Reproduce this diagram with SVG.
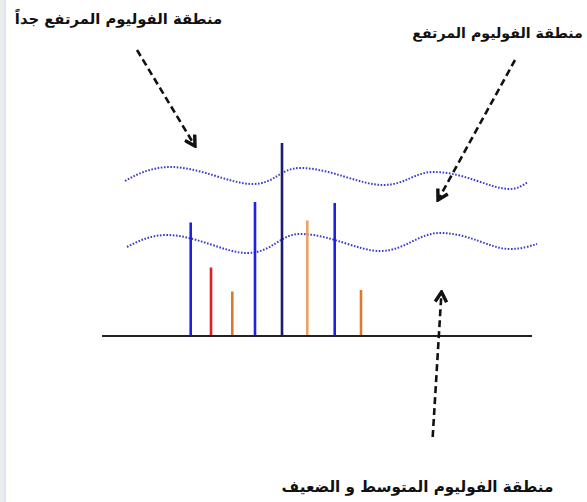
<svg xmlns="http://www.w3.org/2000/svg" width="587" height="502" viewBox="0 0 587 502">
<style>
.lbl{font-family:"DejaVu Sans","Noto Sans",sans-serif;font-weight:bold;font-size:15px;fill:#111;text-anchor:middle}
.wave{fill:none;stroke:#3b3bd0;stroke-width:2;stroke-dasharray:1.6 1.6}
.bar{stroke-width:2.6}
.arr{fill:none;stroke:#111;stroke-width:2.6;stroke-dasharray:7 4;marker-end:url(#ah)}
</style>
<defs>
<marker id="ah" viewBox="0 0 10 10" refX="8.5" refY="5" markerWidth="5.5" markerHeight="5.5" orient="auto" markerUnits="strokeWidth">
<path d="M1.5,1 L8.5,5 L1.5,9" fill="none" stroke="#111" stroke-width="2.4" stroke-dasharray="none"/>
</marker>
</defs>
<rect x="0" y="0" width="587" height="502" fill="#fff"/>
<rect x="0" y="0" width="4" height="502" fill="#ececec"/>
<line x1="5" y1="0" x2="5" y2="502" stroke="#c3d3ee" stroke-width="1.2"/>
<g id="waves">
<path class="wave" d="M125,181 C140,172 155,167 170,167 C200,167 230,184 253,184 C275,184 280,168 300,168 C330,168 360,185 383,185 C405,185 415,172 433,172 C465,172 490,189 510,189 C518,189 523,185 528,182"/>
<path class="wave" d="M127,247 C140,240 152,235 167,235 C195,235 225,253 247,253 C272,253 280,234 300,234 C330,234 358,251 380,251 C405,251 418,233 440,233 C470,233 490,249 510,249 C522,249 530,246 537,244"/>
</g>
<g id="bars">
<line class="bar" x1="190.7" y1="336" x2="190.7" y2="222.5" stroke="#1f1fe6"/>
<line class="bar" x1="211" y1="336" x2="211" y2="267.5" stroke="#e0201e"/>
<line class="bar" x1="232.3" y1="336" x2="232.3" y2="291.5" stroke="#e0782a"/>
<line class="bar" x1="255" y1="336" x2="255" y2="202" stroke="#1f1fe6"/>
<line class="bar" x1="282" y1="336" x2="282" y2="143" stroke="#1b1b72"/>
<line class="bar" x1="307.3" y1="336" x2="307.3" y2="220.5" stroke="#f0a060"/>
<line class="bar" x1="334.7" y1="336" x2="334.7" y2="203" stroke="#1f1fe6"/>
<line class="bar" x1="361" y1="336" x2="361" y2="290" stroke="#e0782a"/>
</g>
<g id="axis">
<line x1="102" y1="336" x2="532" y2="336" stroke="#222" stroke-width="2.2"/>
</g>
<g id="connectors">
<line class="arr" x1="137" y1="50" x2="195" y2="146"/>
<line class="arr" x1="515" y1="60" x2="438" y2="200"/>
<line class="arr" x1="432.7" y1="437" x2="441.5" y2="292"/>
</g>
<g id="label-very-high"><text class="lbl" x="118.5" y="24" style="font-size:14.8px">منطقة الفوليوم المرتفع جداً</text></g>
<g id="label-high"><text class="lbl" x="497.5" y="38" style="font-size:14.2px">منطقة الفوليوم المرتفع</text></g>
<g id="label-medium-low"><text class="lbl" x="417.5" y="492" style="font-size:15.2px">منطقة الفوليوم المتوسط و الضعيف</text></g>
</svg>
